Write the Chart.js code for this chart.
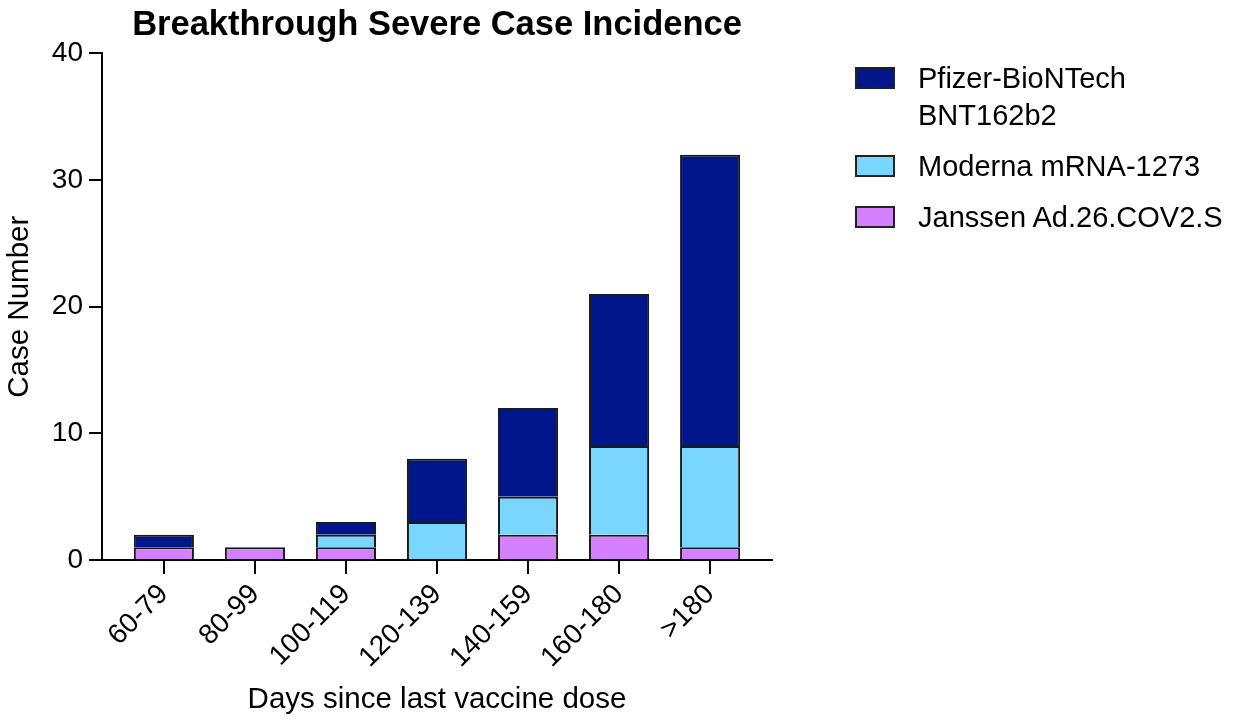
<!DOCTYPE html>
<html>
<head>
<meta charset="utf-8">
<script src="https://cdn.jsdelivr.net/npm/chart.js@4/dist/chart.umd.min.js"></script>
<style>
  html, body { margin: 0; padding: 0; background: #fff; }
  #wrap { position: relative; width: 1239px; height: 721px; }
  #legend { position: absolute; left: 855px; top: 60px; font-family: "Liberation Sans", Arial, sans-serif; font-size: 29px; color: #000; }
  .item { display: flex; align-items: flex-start; margin-bottom: 14px; }
  .box { width: 36px; height: 18px; border: 2px solid #222; margin-top: 7px; margin-right: 23px; flex: none; }
  .txt { line-height: 37px; }
</style>
</head>
<body>
<div id="wrap">
  <canvas id="c" width="1239" height="721"></canvas>
  <div id="legend"></div>
</div>
<script>
const categories = ["60-79", "80-99", "100-119", "120-139", "140-159", "160-180", ">180"];
const janssen = [1, 1, 1, 0, 2, 2, 1];
const moderna = [0, 0, 1, 3, 3, 7, 8];
const pfizer  = [1, 0, 1, 5, 7, 12, 23];
const seriesNames = { pfizer: ["Pfizer-BioNTech", "BNT162b2"], moderna: ["Moderna mRNA-1273"], janssen: ["Janssen Ad.26.COV2.S"] };
const yTicks = [0, 10, 20, 30, 40];

const FONT = '"Liberation Sans", Arial, sans-serif';
const colors = { pfizer: "#02168C", moderna: "#78D6FF", janssen: "#D580FF" };

// zero-height segments are left out so that they draw no stray outline
const toPoints = arr => arr.map((v, i) => ({ x: i, y: v === 0 ? null : v }));

const datasets = [
  { key: "janssen", label: seriesNames.janssen.join(" "), data: toPoints(janssen), backgroundColor: colors.janssen },
  { key: "moderna", label: seriesNames.moderna.join(" "), data: toPoints(moderna), backgroundColor: colors.moderna },
  { key: "pfizer", label: seriesNames.pfizer.join(" "), data: toPoints(pfizer), backgroundColor: colors.pfizer }
].map(d => Object.assign(d, { borderColor: "#1a1a1a", borderWidth: 2, borderSkipped: "start", barPercentage: 1, categoryPercentage: 0.66 }));

const chart = new Chart(document.getElementById("c"), {
  type: "bar",
  data: { datasets },
  options: {
    responsive: false,
    animation: false,
    layout: { padding: { left: 0, right: 467, top: 0, bottom: 0 } },
    plugins: {
      legend: { display: false },
      tooltip: { enabled: false },
      title: {
        display: true,
        fullSize: false,
        text: "Breakthrough Severe Case Incidence",
        color: "#000",
        font: { family: FONT, size: 34.5, weight: "bold" },
        padding: { top: 5, bottom: 7 }
      }
    },
    scales: {
      x: {
        type: "linear",
        stacked: true,
        offset: false,
        min: -0.68,
        max: categories.length - 1 + 0.68,
        afterFit: s => { s.height = 161; },
        border: { display: true, color: "#000", width: 2 },
        grid: { offset: false, drawOnChartArea: false, drawTicks: true, tickLength: 14, color: "#000", lineWidth: 2 },
        ticks: {
          stepSize: 1,
          includeBounds: false,
          autoSkip: false,
          minRotation: 45,
          maxRotation: 45,
          color: "#000",
          padding: 4,
          font: { family: FONT, size: 28 },
          callback: v => categories[v]
        },
        title: { display: true, text: "Days since last vaccine dose", color: "#000", font: { family: FONT, size: 29.5 }, padding: { top: 0, bottom: 3 } }
      },
      y: {
        stacked: true,
        min: yTicks[0],
        max: yTicks[yTicks.length - 1],
        afterFit: s => { s.width = 102; },
        afterBuildTicks: s => { s.ticks = yTicks.map(v => ({ value: v })); },
        border: { display: true, color: "#000", width: 2 },
        grid: { drawOnChartArea: false, drawTicks: true, tickLength: 13, color: "#000", lineWidth: 2 },
        ticks: { color: "#000", padding: 6, font: { family: FONT, size: 28 } },
        title: { display: true, text: "Case Number", color: "#000", font: { family: FONT, size: 29.5 }, padding: { top: 2, bottom: 0 } }
      }
    }
  }
});

// HTML legend built from the series (reverse stacking order, as in the reference)
const legend = document.getElementById("legend");
["pfizer", "moderna", "janssen"].forEach(k => {
  const item = document.createElement("div");
  item.className = "item";
  const box = document.createElement("div");
  box.className = "box";
  box.style.background = colors[k];
  const txt = document.createElement("div");
  txt.className = "txt";
  seriesNames[k].forEach((s, i) => {
    if (i) txt.appendChild(document.createElement("br"));
    txt.appendChild(document.createTextNode(s));
  });
  item.appendChild(box);
  item.appendChild(txt);
  legend.appendChild(item);
});
</script>
</body>
</html>
